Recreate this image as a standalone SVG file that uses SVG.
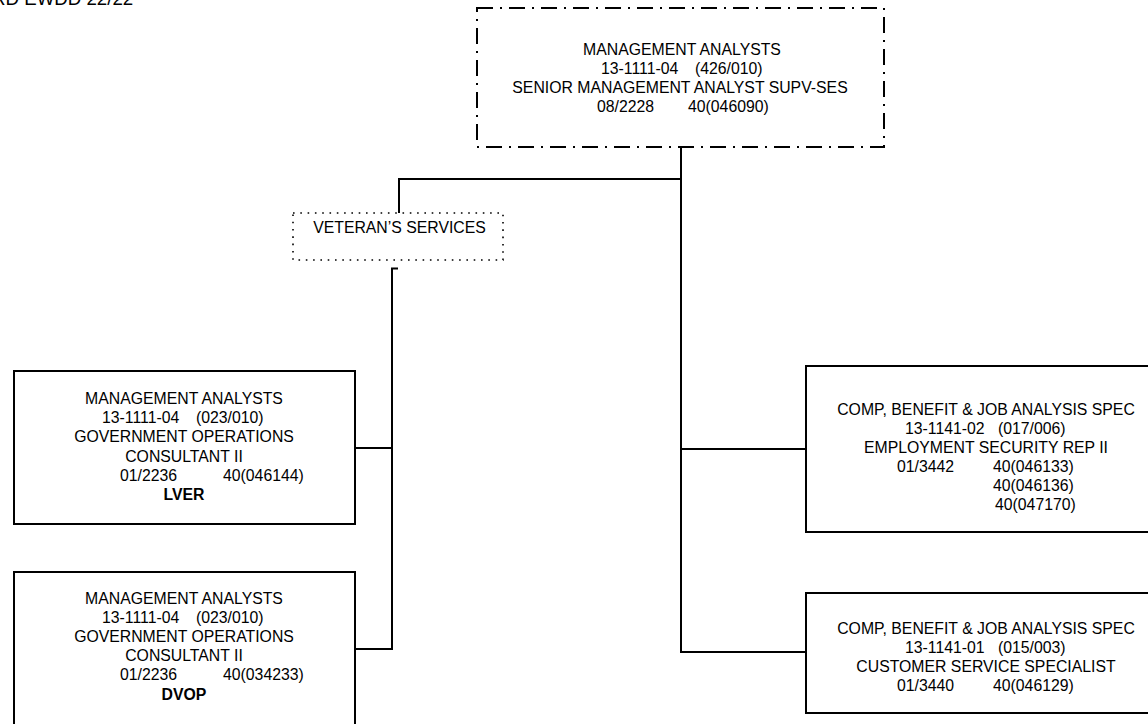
<svg xmlns="http://www.w3.org/2000/svg" width="1148" height="724" viewBox="0 0 1148 724">
  <style>
    text { font-family: "Liberation Sans", Arial, sans-serif; font-size: 15.8px; fill: #000; }
    .c { text-anchor: middle; }
    .b { font-weight: bold; }
    .box { fill: #fff; stroke: #000; stroke-width: 2; }
    .dashdot { fill: #fff; stroke: #000; stroke-width: 2; stroke-dasharray: 16 7 2 7; }
    .dotted { fill: #fff; stroke: #000; stroke-width: 1.6; stroke-dasharray: 1.6 5.7; }
    .wire { fill: none; stroke: #000; stroke-width: 2; }
  </style>
  <rect width="1148" height="724" fill="#fff"/>

  <text x="-8" y="4.5" style="font-size:18.7px">RD EWDD 22/22</text>

  <!-- connectors -->
  <g id="connectors">
    <polyline class="wire" points="681,148 681,652 806,652"/>
    <line class="wire" x1="681" y1="449" x2="806" y2="449"/>
    <polyline class="wire" points="681,179 399,179 399,213"/>
    <polyline class="wire" points="398,268.5 392,268.5 392,649 355,649"/>
    <line class="wire" x1="355" y1="448" x2="392" y2="448"/>
  </g>

  <!-- head position -->
  <g id="node-head">
    <rect class="dashdot" x="477" y="8" width="407" height="139"/>
    <text class="c" x="682" y="55">MANAGEMENT ANALYSTS</text>
    <text x="601" y="74">13-1111-04</text>
    <text x="695" y="74">(426/010)</text>
    <text class="c" x="680" y="92.7">SENIOR MANAGEMENT ANALYST SUPV-SES</text>
    <text x="597" y="111.7">08/2228</text>
    <text x="688" y="111.7">40(046090)</text>
  </g>

  <!-- section label -->
  <g id="node-veterans">
    <rect class="dotted" x="293" y="213" width="210" height="47"/>
    <text class="c" x="399.5" y="233.3">VETERAN’S SERVICES</text>
  </g>

  <g id="node-lver">
    <rect class="box" x="14" y="371" width="341" height="153"/>
    <text class="c" x="184" y="404.3">MANAGEMENT ANALYSTS</text>
    <text x="102" y="423.3">13-1111-04</text>
    <text x="196" y="423.3">(023/010)</text>
    <text class="c" x="184" y="442.3">GOVERNMENT OPERATIONS</text>
    <text class="c" x="184" y="461.5">CONSULTANT II</text>
    <text x="120" y="480.5">01/2236</text>
    <text x="223" y="480.5">40(046144)</text>
    <text class="c b" x="184" y="499.7">LVER</text>
  </g>

  <g id="node-dvop">
    <rect class="box" x="14" y="572" width="341" height="170"/>
    <text class="c" x="184" y="604.3">MANAGEMENT ANALYSTS</text>
    <text x="102" y="623.3">13-1111-04</text>
    <text x="196" y="623.3">(023/010)</text>
    <text class="c" x="184" y="642.3">GOVERNMENT OPERATIONS</text>
    <text class="c" x="184" y="661.3">CONSULTANT II</text>
    <text x="120" y="680.3">01/2236</text>
    <text x="223" y="680.3">40(034233)</text>
    <text class="c b" x="184" y="699.5">DVOP</text>
  </g>

  <g id="node-esr">
    <rect class="box" x="806" y="366" width="360" height="166"/>
    <text class="c" x="986" y="415">COMP, BENEFIT &amp; JOB ANALYSIS SPEC</text>
    <text x="905" y="434">13-1141-02</text>
    <text x="998" y="434">(017/006)</text>
    <text class="c" x="986" y="452.7">EMPLOYMENT SECURITY REP II</text>
    <text x="897" y="471.7">01/3442</text>
    <text x="993" y="471.7">40(046133)</text>
    <text x="993" y="490.7">40(046136)</text>
    <text x="995" y="510">40(047170)</text>
  </g>

  <g id="node-css">
    <rect class="box" x="806" y="593" width="360" height="120"/>
    <text class="c" x="986" y="634">COMP, BENEFIT &amp; JOB ANALYSIS SPEC</text>
    <text x="905" y="652.7">13-1141-01</text>
    <text x="998" y="652.7">(015/003)</text>
    <text class="c" x="986" y="671.7">CUSTOMER SERVICE SPECIALIST</text>
    <text x="897" y="690.7">01/3440</text>
    <text x="993" y="690.7">40(046129)</text>
  </g>
</svg>
